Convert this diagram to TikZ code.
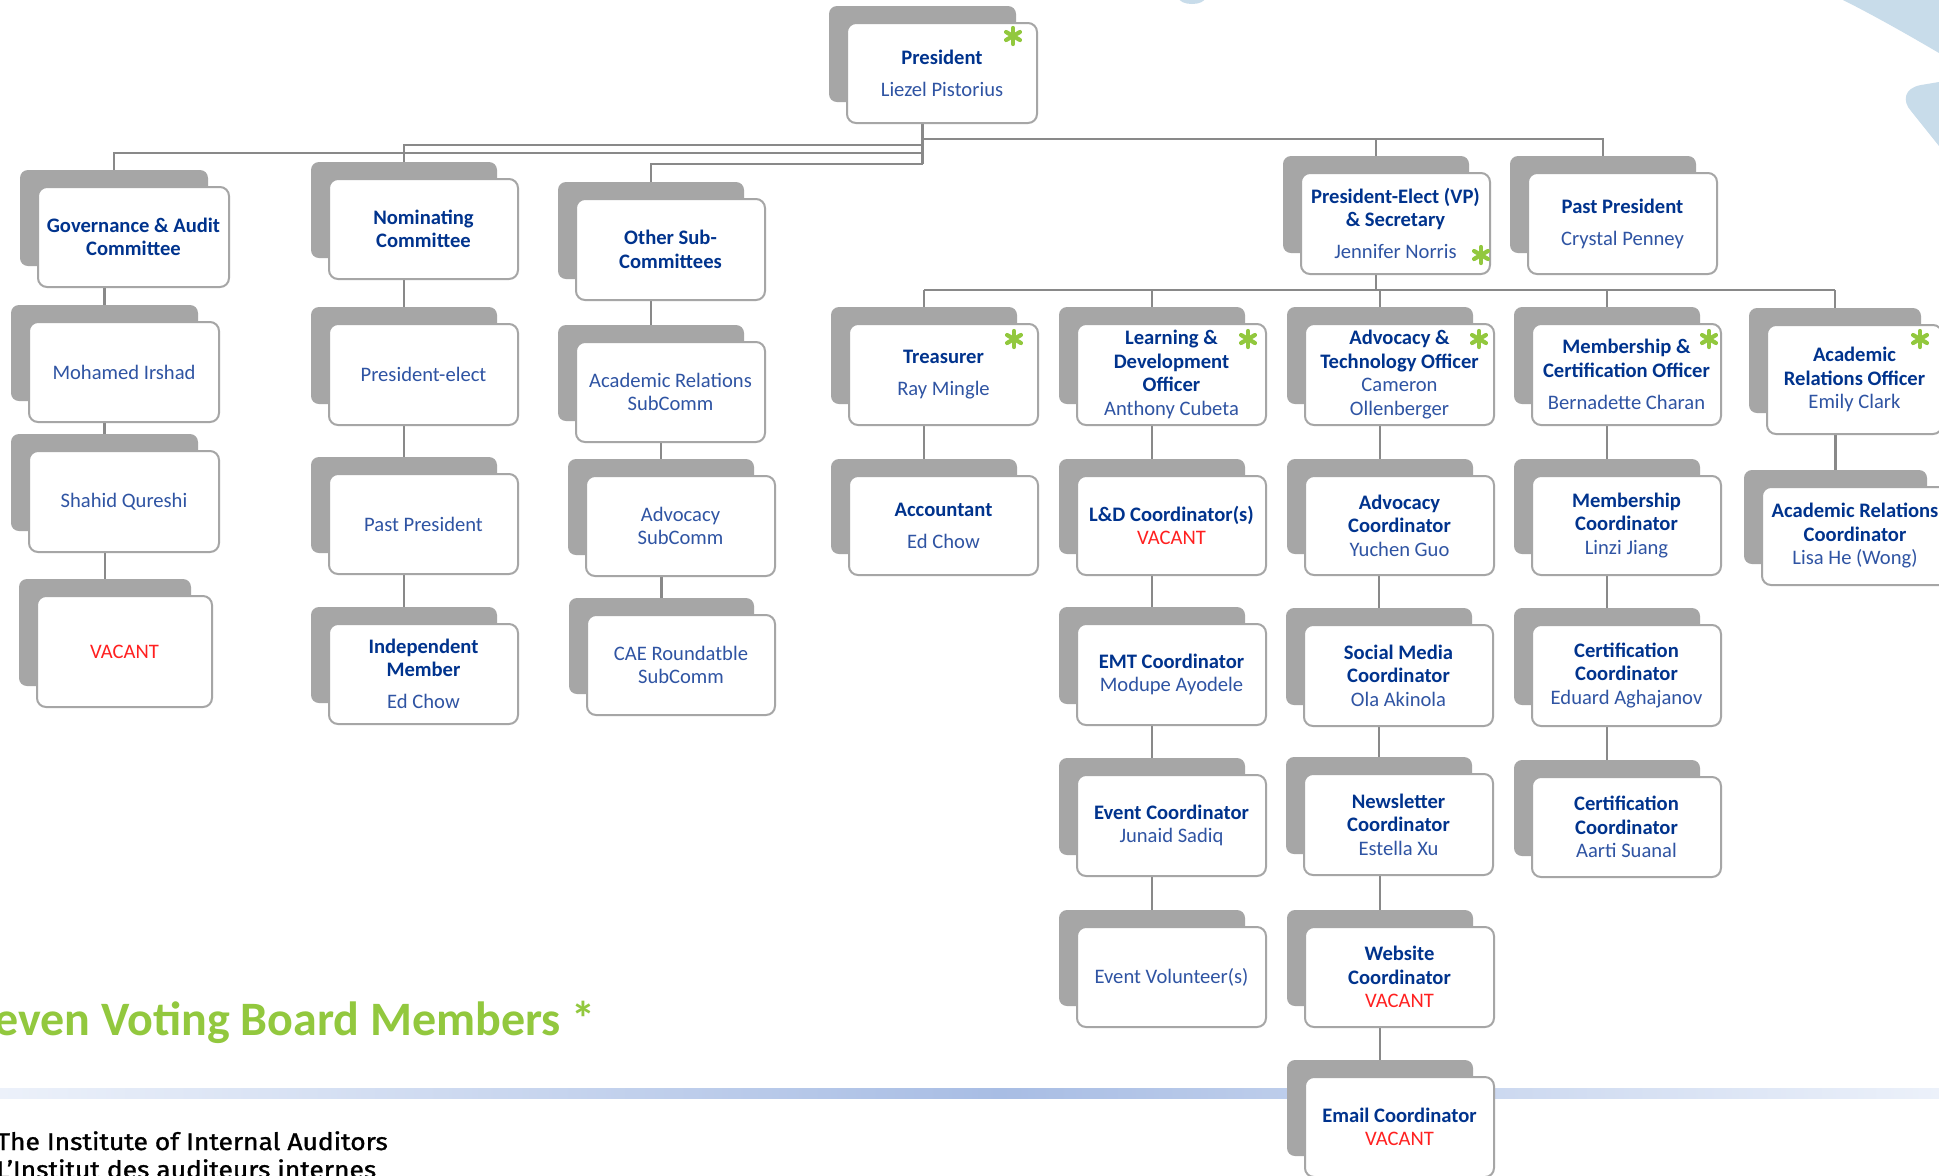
\documentclass[tikz,border=0pt]{standalone}
\usepackage{fontspec}
\setmainfont{Carlito}
\newfontfamily\footfont[FakeBold=1.2]{Fira Sans}
\usetikzlibrary{calc}
\pgfdeclarelayer{bg}
\pgfsetlayers{bg,main}

\definecolor{titleblue}{RGB}{0,51,141}
\definecolor{nameblue}{RGB}{47,84,163}
\definecolor{vacred}{RGB}{255,32,32}
\definecolor{vgreen}{RGB}{146,200,62}
\definecolor{cardgrey}{RGB}{166,166,166}
\definecolor{linegrey}{RGB}{137,137,137}
\definecolor{decoblue}{RGB}{200,220,234}
\definecolor{bandlight}{RGB}{236,241,250}
\definecolor{banddark}{RGB}{168,189,228}

\newcommand\cardttl[1]{{\bfseries\color{titleblue}#1}}
\newcommand\cardnm[1]{{\color{nameblue}#1}}
\newcommand\cardvac[1]{{\color{vacred}#1}}

% name, x1, y1, x2, y2, content
\newcommand\orgcard[6]{%
  \node[cardback, minimum width={0.5*(#4-#2-3)}, minimum height={0.5*(#5-#3-4)}]
    (s#1) at ({(#2+#4)/2-19.5},{(#3+#5)/2-19}) {};
  \node[cardfront, minimum width={0.5*(#4-#2)}, minimum height={0.5*(#5-#3)}]
    (#1) at ({(#2+#4)/2},{(#3+#5)/2}) {#6};
}

\begin{document}
\begin{tikzpicture}[x=0.5pt, y=-0.5pt,
  cardback/.style={fill=cardgrey, rounded corners=4pt, inner sep=0pt, outer sep=0pt},
  cardfront/.style={fill=white, draw=cardgrey, line width=1pt, rounded corners=4.5pt,
    inner sep=0pt, outer sep=0pt, align=center, font=\fontsize{10.3}{11.75}\selectfont},
  conn/.style={draw=linegrey, line width=1.2pt},
  gstar/.pic={\foreach \a in {90,30,150} \draw[vgreen, line width=2.1pt, line cap=round] (\a:8) -- (\a+180:8);}
]
\useasboundingbox (0,0) rectangle (1939,1175);
\clip (0,0) rectangle (1939,1175);

\begin{pgfonlayer}{bg}
  \fill[white] (0,0) rectangle (1939,1175);
  % gradient band
  \shade[left color=bandlight, right color=banddark] (0,1088) rectangle (1000,1098);
  \shade[left color=banddark, right color=bandlight] (1000,1088) rectangle (1939,1098);
  % decorations
  \fill[decoblue] (1843,0) .. controls (1875,16) and (1910,36) .. (1939,53) -- (1939,0) -- cycle;
  \fill[decoblue] (1939,82) -- (1921,85) .. controls (1904,88) and (1902,101) .. (1911,111) -- (1939,146) -- cycle;
  \fill[decoblue] (1192,-2) ellipse [x radius=13, y radius=6];
\end{pgfonlayer}

% bus levels
\coordinate (busR) at (0,139);
\coordinate (busN) at (0,145);
\coordinate (busG) at (0,153);
\coordinate (busO) at (0,164);
\coordinate (busOff) at (0,290);

% cards
\orgcard{P}{847}{23}{1037}{123}{\cardttl{President}\\[4.2pt]\cardnm{Liezel Pistorius}}

\orgcard{G0}{38}{187}{229}{287}{\cardttl{Governance \& Audit}\\\cardttl{Committee}}
\orgcard{G1}{29}{322}{219}{422}{\cardnm{Mohamed Irshad}}
\orgcard{G2}{29}{451}{219}{552}{\cardnm{Shahid Qureshi}}
\orgcard{G3}{37}{596}{212}{707}{\cardvac{VACANT}}

\orgcard{N0}{329}{179}{518}{279}{\cardttl{Nominating}\\\cardttl{Committee}}
\orgcard{N1}{329}{324}{518}{425}{\cardnm{President-elect}}
\orgcard{N2}{329}{474}{518}{574}{\cardnm{Past President}}
\orgcard{N3}{329}{624}{518}{724}{\cardttl{Independent}\\\cardttl{Member}\\[4.2pt]\cardnm{Ed Chow}}

\orgcard{O0}{576}{199}{765}{300}{\cardttl{Other Sub-}\\\cardttl{Committees}}
\orgcard{O1}{576}{342}{765}{442}{\cardnm{Academic Relations}\\\cardnm{SubComm}}
\orgcard{O2}{586}{476}{775}{576}{\cardnm{Advocacy}\\\cardnm{SubComm}}
\orgcard{O3}{587}{615}{775}{715}{\cardnm{CAE Roundatble}\\\cardnm{SubComm}}

\orgcard{PE}{1301}{173}{1490}{274}{\cardttl{President-Elect (VP)}\\\cardttl{\& Secretary}\\[4.2pt]\cardnm{Jennifer Norris}}
\orgcard{PP}{1528}{173}{1717}{274}{\cardttl{Past President}\\[4.2pt]\cardnm{Crystal Penney}}

\orgcard{T}{849}{324}{1038}{425}{\cardttl{Treasurer}\\[4.2pt]\cardnm{Ray Mingle}}
\orgcard{L}{1077}{324}{1266}{425}{\cardttl{Learning \&}\\\cardttl{Development}\\\cardttl{Officer}\\\cardnm{Anthony Cubeta}}
\orgcard{A}{1305}{324}{1494}{425}{\cardttl{Advocacy \&}\\\cardttl{Technology Officer}\\\cardnm{Cameron}\\\cardnm{Ollenberger}}
\orgcard{M}{1532}{324}{1721}{425}{\cardttl{Membership \&}\\\cardttl{Certification Officer}\\[4.2pt]\cardnm{Bernadette Charan}}
\orgcard{R}{1767}{325}{1942}{434}{\cardttl{Academic}\\\cardttl{Relations Officer}\\\cardnm{Emily Clark}}

\orgcard{T1}{849}{476}{1038}{575}{\cardttl{Accountant}\\[4.2pt]\cardnm{Ed Chow}}

\orgcard{L1}{1077}{476}{1266}{575}{\cardttl{L\&D Coordinator(s)}\\\cardvac{VACANT}}
\orgcard{L2}{1077}{624}{1266}{725}{\cardttl{EMT Coordinator}\\\cardnm{Modupe Ayodele}}
\orgcard{L3}{1077}{775}{1266}{876}{\cardttl{Event Coordinator}\\\cardnm{Junaid Sadiq}}
\orgcard{L4}{1077}{927}{1266}{1027}{\cardnm{Event Volunteer(s)}}

\orgcard{A1}{1305}{476}{1494}{575}{\cardttl{Advocacy}\\\cardttl{Coordinator}\\\cardnm{Yuchen Guo}}
\orgcard{A2}{1304}{625}{1493}{726}{\cardttl{Social Media}\\\cardttl{Coordinator}\\\cardnm{Ola Akinola}}
\orgcard{A3}{1304}{774}{1493}{875}{\cardttl{Newsletter}\\\cardttl{Coordinator}\\\cardnm{Estella Xu}}
\orgcard{A4}{1305}{927}{1494}{1027}{\cardttl{Website}\\\cardttl{Coordinator}\\\cardvac{VACANT}}
\orgcard{A5}{1305}{1077}{1494}{1177}{\cardttl{Email Coordinator}\\\cardvac{VACANT}}

\orgcard{M1}{1532}{476}{1721}{575}{\cardttl{Membership}\\\cardttl{Coordinator}\\\cardnm{Linzi Jiang}}
\orgcard{M2}{1532}{625}{1721}{726}{\cardttl{Certification}\\\cardttl{Coordinator}\\\cardnm{Eduard Aghajanov}}
\orgcard{M3}{1532}{777}{1721}{877}{\cardttl{Certification}\\\cardttl{Coordinator}\\\cardnm{Aarti Suanal}}

\orgcard{R1}{1762}{487}{1948}{585}{\cardttl{Academic Relations}\\\cardttl{Coordinator}\\\cardnm{Lisa He (Wong)}}

% voting-member marks
\pic at (1013,36) {gstar};
\pic at (1481,255) {gstar};
\pic at (1014,339) {gstar};
\pic at (1248,339) {gstar};
\pic at (1479,339) {gstar};
\pic at (1709,339) {gstar};
\pic at (1920,339) {gstar};

% connectors
\begin{pgfonlayer}{bg}
  \draw[conn] (sP |- P.south) -- (sP |- busO);
  \draw[conn] (sP |- busN) -| (sN0.north);
  \draw[conn] (sP |- busG) -| (sG0.north);
  \draw[conn] (sP |- busO) -| (sO0.north);
  \draw[conn] (sP |- busR) -| (sPP.north);
  \draw[conn] (sPE |- busR) -- (sPE.north);
  \draw[conn] (sPE |- PE.south) -- (sPE |- busOff);
  \draw[conn] (sT |- busOff) -- (sR |- busOff);
  \foreach \c in {T,L,A,M,R} \draw[conn] (s\c |- busOff) -- (s\c.north);
  \foreach \p/\c in {G0/G1,G1/G2,G2/G3,N0/N1,N1/N2,N2/N3,O0/O1,O1/O2,O2/O3,T/T1,L/L1,L1/L2,L2/L3,L3/L4,A/A1,A1/A2,A2/A3,A3/A4,A4/A5,M/M1,M1/M2,M2/M3,R/R1}
    \draw[conn] (\p.south -| s\c.north) -- (s\c.north);
\end{pgfonlayer}

% heading and footer
\node[anchor=base east, inner sep=0pt, text=vgreen, font=\fontsize{24}{28}\selectfont\bfseries] (voting) at (596,1035) {Seven Voting Board Members *};
\node[anchor=base west, inner sep=0pt, font=\footfont\fontsize{12}{14}\selectfont] (iia1) at (-4,1150) {\scalebox{1.1}[1]{The Institute of Internal Auditors}};
\node[anchor=base west, inner sep=0pt, font=\footfont\fontsize{12}{14}\selectfont] (iia2) at (-4,1178) {\scalebox{1.1}[1]{L’Institut des auditeurs internes}};
\end{tikzpicture}
\end{document}
